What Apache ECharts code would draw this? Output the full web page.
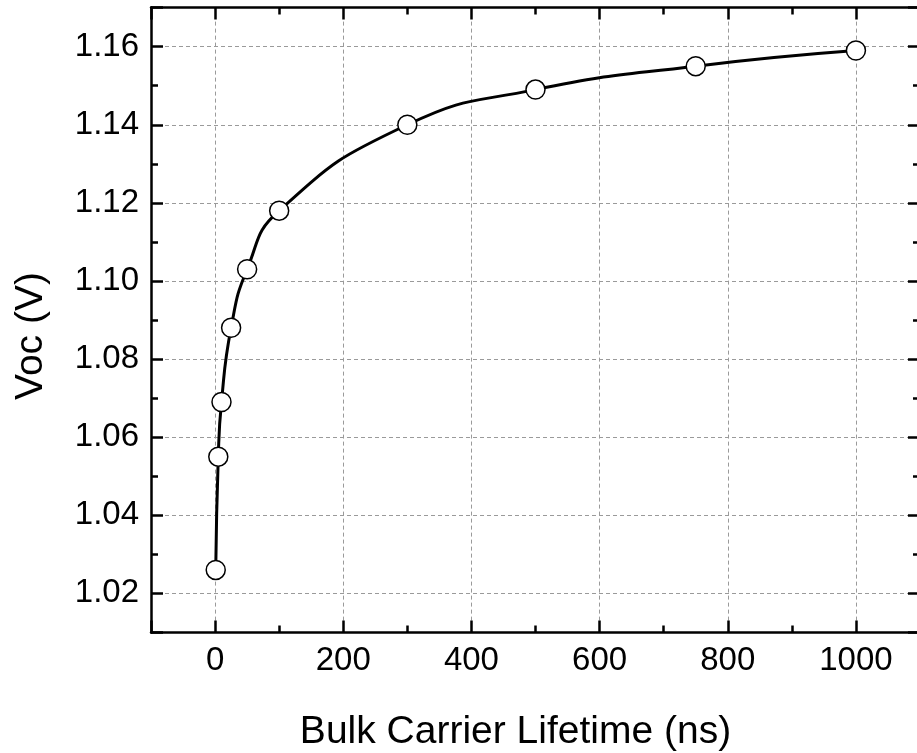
<!DOCTYPE html>
<html><head><meta charset="utf-8">
<script src="https://cdn.jsdelivr.net/npm/echarts@6/dist/echarts.min.js"></script>
<style>html,body{margin:0;padding:0;background:#fff}#c{width:917px;height:753px}</style>
</head><body><div id="c"></div>
<script>
// Data
const lifetimes = [1, 5, 10, 25, 50, 100, 300, 500, 750, 1000];
const vocValues = [1.026, 1.055, 1.069, 1.088, 1.103, 1.118, 1.140, 1.149, 1.155, 1.159];
const xTitle = 'Bulk Carrier Lifetime (ns)';
const yTitle = 'Voc (V)';
const xRange = [-100, 1100];
const yRange = [1.01, 1.17];

const pts = lifetimes.map((x, i) => [x, vocValues[i]]);
const FONT = 'Liberation Sans, Arial, sans-serif';
const axisLineStyle = { color: '#000', width: 2.5 };
const gridStyle = { color: '#9a9a9a', width: 1, type: [4, 3] };

function xAx(pos, main) {
  return {
    type: 'value', position: pos, min: xRange[0], max: xRange[1],
    splitNumber: 6, minInterval: 200, maxInterval: 200,
    axisLine: { show: true, onZero: false, lineStyle: axisLineStyle },
    axisTick: { show: true, inside: true, length: 12, lineStyle: { color: '#000', width: 2.5 } },
    minorTick: { show: true, splitNumber: 2, length: 7, lineStyle: { color: '#000', width: 2.5 } },
    axisLabel: { show: main, fontSize: 33, color: '#000', fontFamily: FONT, margin: 12,
      showMinLabel: false, showMaxLabel: false, formatter: v => String(v) },
    splitLine: { show: main, lineStyle: gridStyle },
    name: main ? xTitle : '', nameLocation: 'middle', nameGap: 80,
    nameTextStyle: { fontSize: 39, color: '#000', fontFamily: FONT, padding: [0, 40, 0, 0] }
  };
}
function yAx(pos, main) {
  return {
    type: 'value', position: pos, min: yRange[0], max: yRange[1],
    splitNumber: 8, minInterval: 0.02, maxInterval: 0.02,
    axisLine: { show: true, onZero: false, lineStyle: axisLineStyle },
    axisTick: { show: true, inside: true, length: 12, lineStyle: { color: '#000', width: 2.5 } },
    minorTick: { show: true, splitNumber: 2, length: 7, lineStyle: { color: '#000', width: 2.5 } },
    axisLabel: { show: main, fontSize: 33, color: '#000', fontFamily: FONT, margin: 12,
      showMinLabel: false, showMaxLabel: false, formatter: v => v.toFixed(2) },
    splitLine: { show: main, lineStyle: gridStyle },
    name: main ? yTitle : '', nameLocation: 'middle', nameGap: 100,
    nameTextStyle: { fontSize: 39, color: '#000', fontFamily: FONT, padding: [0, 32, 0, 0] }
  };
}

const chart = echarts.init(document.getElementById('c'), null, { renderer: 'canvas' });
chart.setOption({
  animation: false,
  backgroundColor: '#fff',
  grid: { left: 151, top: 7.6, right: -3, bottom: 120.6, containLabel: false, outerBoundsMode: 'none' },
  xAxis: [xAx('bottom', true), xAx('top', false)],
  yAxis: [yAx('left', true), yAx('right', false)],
  series: [
    { type: 'line', data: pts, smooth: 0.5, showSymbol: false,
      lineStyle: { color: '#000', width: 3 }, z: 2, silent: true },
    { type: 'scatter', data: pts, symbol: 'circle', symbolSize: 19,
      itemStyle: { color: '#fff', borderColor: '#000', borderWidth: 1.5, opacity: 1 }, z: 3 }
  ]
});
</script></body></html>
